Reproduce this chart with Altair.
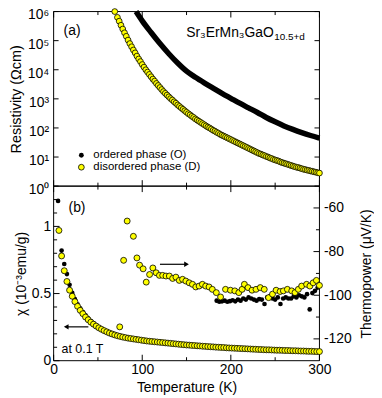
import altair as alt
import pandas as pd

FONT = "Liberation Sans"
YELLOW = "#ffff00"
W, H1, H2 = 268, 176, 176

# ---------------- panel (a): resistivity ----------------
rhoD_T = [69, 72, 74, 76, 78, 80, 82, 84, 86, 88, 90, 92, 94, 96, 98, 100,
          102, 104, 106, 108, 110, 112, 114, 116, 118, 120, 122, 124, 126, 128, 130,
          132, 134, 136, 138, 140, 142, 144, 146, 148, 150,
          152, 154, 156, 158, 160, 162, 164, 166, 168, 170, 172, 174, 176, 178, 180,
          182, 184, 186, 188, 190, 192, 194, 196, 198, 200,
          202, 204, 206, 208, 210, 212, 214, 216, 218, 220, 222, 224, 226, 228, 230,
          232, 234, 236, 238, 240, 242, 244, 246, 248, 250,
          252, 254, 256, 258, 260, 262, 264, 266, 268, 270, 272, 274, 276, 278, 280,
          282, 284, 286, 288, 290, 292, 294, 296, 298, 300]
rhoD_log10 = [6.00, 5.80, 5.67, 5.53, 5.40, 5.27, 5.15, 5.02, 4.90, 4.79, 4.68, 4.58, 4.47, 4.37, 4.28, 4.18,
              4.09, 4.00, 3.92, 3.84, 3.76, 3.68, 3.61, 3.53, 3.46, 3.39, 3.32, 3.25, 3.19, 3.13, 3.07,
              3.01, 2.96, 2.90, 2.85, 2.79, 2.74, 2.69, 2.64, 2.59, 2.54,
              2.49, 2.45, 2.40, 2.36, 2.31, 2.27, 2.23, 2.19, 2.15, 2.11, 2.07, 2.03, 2.00, 1.96, 1.92,
              1.89, 1.85, 1.82, 1.78, 1.75, 1.72, 1.69, 1.66, 1.63, 1.60,
              1.57, 1.54, 1.51, 1.48, 1.45, 1.42, 1.39, 1.36, 1.33, 1.30, 1.27, 1.24, 1.21, 1.18, 1.15,
              1.12, 1.10, 1.07, 1.05, 1.02, 1.00, 0.97, 0.95, 0.92, 0.90,
              0.88, 0.86, 0.83, 0.81, 0.79, 0.77, 0.75, 0.73, 0.71, 0.69, 0.67, 0.65, 0.64, 0.62, 0.60,
              0.58, 0.57, 0.55, 0.54, 0.52, 0.51, 0.49, 0.48, 0.46, 0.45]

rhoO_T = [93, 100, 110, 120, 130, 140, 150, 160, 170, 180, 190, 200, 210, 220, 230, 240,
          250, 260, 270, 280, 290, 300]
rhoO_log10 = [6.00, 5.68, 5.28, 4.90, 4.55, 4.23, 3.95, 3.74, 3.55, 3.37, 3.19, 3.02, 2.85, 2.69, 2.53, 2.36,
              2.21, 2.07, 1.95, 1.84, 1.74, 1.65]

# ---------------- panel (b): susceptibility ----------------
chiD_T = [6, 9, 12, 15, 18, 21, 24, 27, 30, 33, 36, 39, 42, 45, 48, 51, 54, 57, 60, 63, 66, 69, 72, 75,
          78, 81, 84, 87, 90, 93, 96, 99,
          102, 105, 108, 111, 114, 117, 120, 123, 126, 129, 132, 135, 138, 141, 144, 147, 150, 153, 156,
          159, 162, 165, 168, 171, 174, 177, 180, 183, 186, 189, 192, 195, 198,
          201, 204, 207, 210, 213, 216, 219, 222, 225, 228, 231, 234, 237, 240, 243, 246, 249, 252, 255,
          258, 261, 264, 267, 270, 273, 276, 279, 282, 285, 288, 291, 294, 297, 300]
chiD = [0.97, 0.78, 0.67, 0.59, 0.525, 0.48, 0.44, 0.405, 0.375, 0.35, 0.325, 0.305, 0.287, 0.272, 0.258,
        0.245, 0.234, 0.224, 0.215, 0.206, 0.199, 0.192, 0.186, 0.181, 0.176, 0.172, 0.168, 0.165, 0.162,
        0.159, 0.156, 0.153,
        0.150, 0.147, 0.145, 0.143, 0.141, 0.139, 0.137, 0.135, 0.133, 0.131, 0.129, 0.127, 0.125, 0.123,
        0.121, 0.119, 0.117, 0.116, 0.114, 0.113, 0.111, 0.110, 0.108, 0.107, 0.105, 0.104, 0.103, 0.101,
        0.100, 0.099, 0.098, 0.096, 0.095,
        0.094, 0.093, 0.092, 0.091, 0.090, 0.089, 0.088, 0.087, 0.086, 0.085, 0.084, 0.083, 0.082, 0.081,
        0.081, 0.080, 0.079, 0.078, 0.078, 0.077, 0.076, 0.076, 0.075, 0.074, 0.074, 0.073, 0.072, 0.072,
        0.071, 0.070, 0.070, 0.069, 0.068, 0.068]

chiO_T = [5, 9, 12, 15, 18, 21, 24, 27, 30, 33, 36, 39, 42, 45,
          51, 57, 63, 69, 75, 81, 87, 93, 99,
          111, 123, 135, 147, 159, 171, 183, 195, 207, 219, 231, 243, 255, 267, 279, 291, 300]
chiO = [1.19, 0.82, 0.72, 0.645, 0.565, 0.505, 0.458, 0.42, 0.39, 0.362, 0.337, 0.315, 0.295, 0.278,
        0.247, 0.226, 0.207, 0.193, 0.182, 0.173, 0.166, 0.160, 0.154,
        0.143, 0.135, 0.127, 0.119, 0.113, 0.107, 0.101, 0.096, 0.092, 0.088, 0.084, 0.081, 0.078,
        0.075, 0.072, 0.070, 0.068]

# ---------------- panel (b): thermopower ----------------
tpO_T = [184, 187, 190, 193, 196, 199, 202, 205, 208, 211, 214, 217, 220, 223, 226, 229, 232, 235,
         238, 241, 244, 247, 250, 253, 256, 259, 262, 265, 268, 271, 274, 277, 280, 283, 286, 289,
         292, 295, 298]
tpO = [-102.5, -103.0, -102.8, -102.5, -103.0, -102.7, -102.3, -102.8, -102.0, -102.5,
       -101.5, -102.0, -101.0, -101.5, -102.0, -102.5, -101.8, -102.0, -104.0, -101.0,
       -100.5, -101.5, -102.0, -101.0, -104.0, -101.5, -101.0, -101.5, -101.5, -100.5,
       -101.0, -100.0, -100.5, -101.0, -99.5, -106.5, -99.0, -98.0, -96.5]

tpD_T = [74.6, 79, 83, 90, 94, 97, 101, 104.5, 108.3, 112,
         115.7, 119.4, 123.1, 126.8, 130.6, 134.3, 138, 141.8, 145.5, 149.2,
         153, 156.7, 160.4, 164.2, 167.9, 171.6, 175.4, 179.1, 183.6, 188.4,
         194, 199.6, 204.5, 209, 212.7, 215.3, 219.4, 223.9, 228.4, 233.2,
         237.7, 242.6, 247, 251.1, 255.6, 259.3, 263.8, 268.7, 272.4, 276.2,
         279.9, 285.5, 289.2, 292.9, 296.6, 300]
tpD = [-114.5, -84, -66, -73, -82.9, -86.2, -87.9, -94, -90.5, -87.5,
       -89.7, -90.9, -90.9, -91.2, -91.2, -92.3, -91.7, -93.2, -92.7, -93.5,
       -94.3, -95, -96.2, -95.8, -95, -95.8, -96.2, -97.3, -98.8, -100.8,
       -97.3, -97.7, -98, -98.8, -97.3, -95, -96.5, -97.7, -97.3, -96.5,
       -97.3, -101.1, -99.5, -97.7, -98.3, -98, -97.3, -98, -98.8, -97.3,
       -95.8, -95, -95.8, -94.3, -93.2, -95.5]

# axis tick values
X_MAJ = [0, 100, 200, 300]
X_MIN = [50, 150, 250]
DECADES = [1, 10, 100, 1000, 10000, 100000, 1000000]
CHI_MAJ = [0, 0.5, 1]
CHI_MIN = [0.1, 0.2, 0.3, 0.4, 0.6, 0.7, 0.8, 0.9, 1.1, 1.2]
TP_MAJ = [-120, -100, -80, -60]
TP_MIN = [-110, -90, -70]

X_DOM = [0, 300]
RHO_DOM = [1, 1e6]
CHI_DOM = [0, 1.3]
TP_DOM = [-130, -50]

xs = alt.Scale(domain=X_DOM, nice=False, zero=False)
ys_rho = alt.Scale(type="log", domain=RHO_DOM, nice=False)
ys_chi = alt.Scale(domain=CHI_DOM, nice=False, zero=False)
ys_tp = alt.Scale(domain=TP_DOM, nice=False, zero=False)

# pixel -> data-unit conversions for tick lengths (frame is W x H)
KX = (X_DOM[1] - X_DOM[0]) / W                 # K per px
KDEC = 6.0 / H1                                 # decades per px (top panel)
KCHI = (CHI_DOM[1] - CHI_DOM[0]) / H2           # chi per px
KTP = (TP_DOM[1] - TP_DOM[0]) / H2              # uV/K per px


def XN():
    return alt.X("T:Q", scale=xs, axis=None)


def YN(field, scale):
    return alt.Y(field + ":Q", scale=scale, axis=None)


def xaxis_layer(axis, yscale, ymid):
    df = pd.DataFrame({"T": [150], "v": [ymid]})
    return alt.Chart(df).mark_point(opacity=0, size=1).encode(
        x=alt.X("T:Q", scale=xs, axis=axis), y=YN("v", yscale))


def yaxis_layer(scale, ymid, axis):
    df = pd.DataFrame({"T": [150], "v": [ymid]})
    return alt.Chart(df).mark_point(opacity=0, size=1).encode(
        x=XN(), y=alt.Y("v:Q", scale=scale, axis=axis))


def seg_layer(rows, yscale, width=1.0):
    df = pd.DataFrame(rows, columns=["T", "T2", "v", "v2"])
    return alt.Chart(df).mark_rule(color="black", strokeWidth=width).encode(
        x=XN(), x2="T2:Q", y=YN("v", yscale), y2="v2:Q")


def text_layer(T, yv, field, scale, text, size, align="left", baseline="alphabetic"):
    df = pd.DataFrame({"T": [T], field: [yv]})
    return alt.Chart(df).mark_text(text=text, font=FONT, fontSize=size, align=align,
                                   baseline=baseline, color="black").encode(
        x=XN(), y=YN(field, scale))


# ---------------- frame + inward ticks (segments in data units) ----------------
def frame_rows(y0, y1):
    return [(X_DOM[0], X_DOM[1], y0, y0), (X_DOM[0], X_DOM[1], y1, y1),
            (X_DOM[0], X_DOM[0], y0, y1), (X_DOM[1], X_DOM[1], y0, y1)]


top_rows = frame_rows(RHO_DOM[0], RHO_DOM[1])
for vals, L in ((X_MAJ, 6), (X_MIN, 3.5)):
    for t in vals:
        top_rows.append((t, t, RHO_DOM[0], RHO_DOM[0] * 10 ** (L * KDEC)))
        top_rows.append((t, t, RHO_DOM[1], RHO_DOM[1] / 10 ** (L * KDEC)))
for d in DECADES:
    top_rows.append((X_DOM[0], X_DOM[0] + 5 * KX, d, d))
    top_rows.append((X_DOM[1] - 5 * KX, X_DOM[1], d, d))

bot_rows = frame_rows(CHI_DOM[0], CHI_DOM[1])
for vals, L in ((X_MAJ, 6), (X_MIN, 3.5)):
    for t in vals:
        bot_rows.append((t, t, CHI_DOM[0], CHI_DOM[0] + L * KCHI))
        bot_rows.append((t, t, CHI_DOM[1], CHI_DOM[1] - L * KCHI))
for vals, L in ((CHI_MAJ, 6), (CHI_MIN, 3.5)):
    for c in vals:
        bot_rows.append((X_DOM[0], X_DOM[0] + L * KX, c, c))
tp_rows = []
for vals, L in ((TP_MAJ, 6), (TP_MIN, 3.5)):
    for p in vals:
        tp_rows.append((X_DOM[1] - L * KX, X_DOM[1], p, p))

# ---------------- top panel ----------------
dfD = pd.DataFrame({"T": rhoD_T, "rho": [10 ** v for v in rhoD_log10]})
dfO = pd.DataFrame({"T": rhoO_T, "rho": [10 ** v for v in rhoO_log10]})

rho_label_axis = alt.Axis(orient="left", values=DECADES, ticks=False, tickSize=0, domain=False,
                          labelExpr="'10' + ['⁰','¹','²','³','⁴','⁵','⁶'][round(log(datum.value)/LN10)]",
                          labelFontSize=14, labelPadding=5, labelOffset=3.5, labelOverlap=False,
                          title="Resistivity (Ωcm)", titleFontSize=14.5, titleFontWeight="normal",
                          titlePadding=4, grid=False)

black_line = alt.Chart(dfO).mark_line(color="black", strokeWidth=5.5, interpolate="monotone").encode(
    x=XN(), y=YN("rho", ys_rho))
yellow_pts = alt.Chart(dfD).mark_circle(size=34, fill=YELLOW, stroke="black", strokeWidth=0.8,
                                        opacity=1).encode(x=XN(), y=YN("rho", ys_rho))

leg = pd.DataFrame({"T": [31.3, 31.3], "rho": [10 ** 1.06, 10 ** 0.65],
                    "label": ["ordered phase (O)", "disordered phase (D)"]})
leg_black = alt.Chart(leg.iloc[[0]]).mark_circle(size=24, color="black", opacity=1).encode(
    x=XN(), y=YN("rho", ys_rho))
leg_yellow = alt.Chart(leg.iloc[[1]]).mark_circle(size=34, fill=YELLOW, stroke="black",
                                                  strokeWidth=0.8, opacity=1).encode(
    x=XN(), y=YN("rho", ys_rho))
leg_text = alt.Chart(leg.assign(T=44.8)).mark_text(font=FONT, fontSize=11.5, align="left",
                                                   baseline="middle", color="black").encode(
    x=XN(), y=YN("rho", ys_rho), text="label:N")

top = alt.layer(
    yaxis_layer(ys_rho, 1000, rho_label_axis),
    seg_layer(top_rows, ys_rho),
    black_line,
    yellow_pts,
    leg_black, leg_yellow, leg_text,
    text_layer(11.2, 10 ** 5.2, "rho", ys_rho, "(a)", 14),
    text_layer(248.5, 10 ** 5.13, "rho", ys_rho, "Sr₃ErMn₃GaO", 14, align="right"),
    text_layer(249.0, 10 ** 5.03, "rho", ys_rho, "10.5+d", 10),
).resolve_axis(x="independent", y="independent").properties(width=W, height=H1)

# ---------------- bottom panel ----------------
dfchiD = pd.DataFrame({"T": chiD_T, "chi": chiD})
dfchiO = pd.DataFrame({"T": chiO_T, "chi": chiO})
dftpD = pd.DataFrame({"T": tpD_T, "tp": tpD})
dftpO = pd.DataFrame({"T": tpO_T, "tp": tpO})

chi_label_axis = alt.Axis(orient="left", values=CHI_MAJ, ticks=False, tickSize=0, domain=False,
                          labelExpr="'' + datum.value", labelFontSize=14, labelPadding=3,
                          title="χ (10⁻³emu/g)", titleFontSize=14, titleFontWeight="normal",
                          titlePadding=3, grid=False)
tp_label_axis = alt.Axis(orient="right", values=TP_MAJ, ticks=False, tickSize=0, domain=False,
                         labelExpr="'-' + abs(datum.value)", labelFontSize=14, labelPadding=4,
                         title="Thermopower (μV/K)", titleFontSize=14, titleFontWeight="normal",
                         titleAngle=270, titleBaseline="top", titlePadding=8, grid=False)
x_label_axis = alt.Axis(orient="bottom", values=X_MAJ, ticks=False, tickSize=0, domain=False,
                        labelFontSize=14, labelPadding=2, labelFlush=False, format="d",
                        title="Temperature (K)", titleFontSize=14, titleFontWeight="normal",
                        titlePadding=4, grid=False)

chiO_pts = alt.Chart(dfchiO).mark_circle(size=22, color="black", opacity=1).encode(
    x=XN(), y=YN("chi", ys_chi))
tpO_pts = alt.Chart(dftpO).mark_circle(size=22, color="black", opacity=1).encode(
    x=XN(), y=YN("tp", ys_tp))
chiD_pts = alt.Chart(dfchiD).mark_circle(size=36, fill=YELLOW, stroke="black", strokeWidth=0.8,
                                         opacity=1).encode(x=XN(), y=YN("chi", ys_chi))
tpD_pts = alt.Chart(dftpD).mark_circle(size=36, fill=YELLOW, stroke="black", strokeWidth=0.8,
                                       opacity=1).encode(x=XN(), y=YN("tp", ys_tp))

arrows = pd.DataFrame({"T": [14.2, 120.0], "T2": [39.2, 150.0], "chi": [0.252, 0.718]})
arrow_shafts = alt.Chart(arrows).mark_rule(color="black", strokeWidth=1.2).encode(
    x=XN(), x2="T2:Q", y=YN("chi", ys_chi))
head_left = alt.Chart(pd.DataFrame({"T": [14.2], "chi": [0.252]})).mark_point(
    shape="triangle-left", filled=True, size=30, color="black", opacity=1).encode(
    x=XN(), y=YN("chi", ys_chi))
head_right = alt.Chart(pd.DataFrame({"T": [150.0], "chi": [0.718]})).mark_point(
    shape="triangle-right", filled=True, size=30, color="black", opacity=1).encode(
    x=XN(), y=YN("chi", ys_chi))

bottom = alt.layer(
    xaxis_layer(x_label_axis, ys_chi, 0.5),
    yaxis_layer(ys_chi, 0.5, chi_label_axis),
    yaxis_layer(ys_tp, -90, tp_label_axis),
    seg_layer(bot_rows, ys_chi),
    seg_layer(tp_rows, ys_tp),
    chiO_pts, tpO_pts, chiD_pts, tpD_pts,
    arrow_shafts, head_left, head_right,
    text_layer(16.8, 1.11, "chi", ys_chi, "(b)", 14),
    text_layer(9.0, 0.06, "chi", ys_chi, "at 0.1 T", 12.5),
).resolve_scale(y="independent").resolve_axis(x="independent", y="independent").properties(
    width=W, height=H2)

chart = alt.vconcat(top, bottom, spacing=0, bounds="flush",
                    padding={"left": 0, "top": -9, "right": 0, "bottom": 0}).configure_view(
    strokeWidth=0).configure_axis(labelFont=FONT, titleFont=FONT,
                                  labelColor="black", titleColor="black")

chart.save("out.html", embed_options={"renderer": "svg", "actions": False})
